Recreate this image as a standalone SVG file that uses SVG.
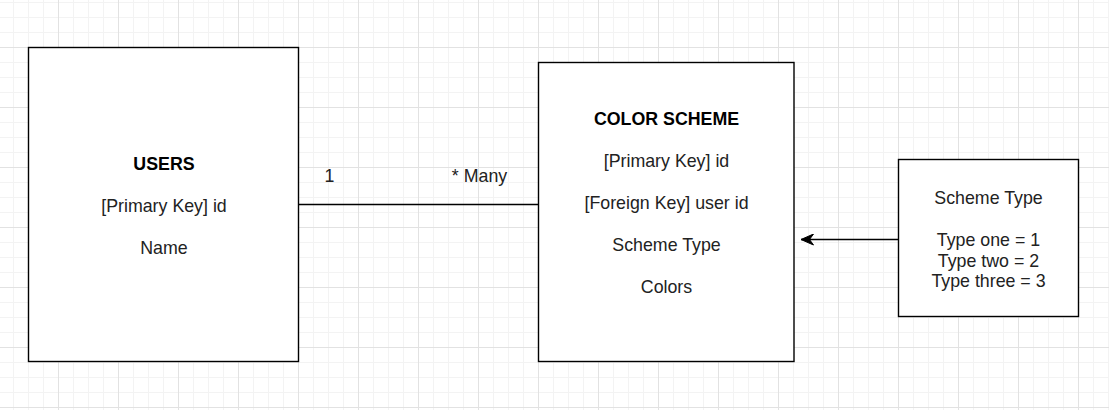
<svg xmlns="http://www.w3.org/2000/svg" width="1109" height="410" viewBox="0 0 1109 410">
<defs>
<pattern id="minor" x="-2" y="2" width="15" height="15" patternUnits="userSpaceOnUse">
<path d="M0.5 0V15M0 0.5H15" stroke="#f3f3f3" stroke-width="1" fill="none"/>
</pattern>
<pattern id="major" x="-2" y="-13" width="60" height="60" patternUnits="userSpaceOnUse">
<path d="M0.5 0V60M0 0.5H60" stroke="#e2e2e2" stroke-width="1" fill="none"/>
</pattern>
<marker id="arrow" viewBox="0 0 14 12" refX="13" refY="6" markerWidth="14" markerHeight="12" markerUnits="userSpaceOnUse" orient="auto">
<path d="M0.5 0.5L13 6L0.5 11.5L4.5 6Z" fill="#000" stroke="#000" stroke-width="1" stroke-linejoin="miter"/>
</marker>
<style>
.box{fill:#fff;stroke:#000;stroke-width:1.4}
.t{font-family:"Liberation Sans",Arial,sans-serif;font-size:17.8px;fill:#222;text-anchor:middle}
.b{font-weight:bold;fill:#000}
.edge{stroke:#000;stroke-width:1.4;fill:none}
</style>
</defs>
<rect width="1109" height="410" fill="#fff"/>
<rect width="1109" height="410" fill="url(#minor)"/>
<rect width="1109" height="410" fill="url(#major)"/>
<g id="connectors">
<path class="edge" d="M298.5 204.5H538.5"/>
<text class="t" x="329.5" y="182">1</text>
<text class="t" x="479.5" y="182">* Many</text>
<path class="edge" d="M898.5 239.5H801" marker-end="url(#arrow)"/>
</g>
<g id="users">
<rect class="box" x="28.5" y="47.5" width="270" height="314"/>
<text class="t b" x="164" y="169.5">USERS</text>
<text class="t" x="164" y="211.5">[Primary Key] id</text>
<text class="t" x="164" y="253.5">Name</text>
</g>
<g id="color-scheme">
<rect class="box" x="538.5" y="62.5" width="255.5" height="299"/>
<text class="t b" x="666.5" y="125">COLOR SCHEME</text>
<text class="t" x="666.5" y="167">[Primary Key] id</text>
<text class="t" x="666.5" y="209">[Foreign Key] user id</text>
<text class="t" x="666.5" y="251">Scheme Type</text>
<text class="t" x="666.5" y="293">Colors</text>
</g>
<g id="scheme-type">
<rect class="box" x="898.5" y="159.5" width="180" height="157"/>
<text class="t" x="988.5" y="204">Scheme Type</text>
<text class="t" x="988.5" y="246">Type one = 1</text>
<text class="t" x="988.5" y="266.5">Type two = 2</text>
<text class="t" x="988.5" y="287">Type three = 3</text>
</g>
</svg>
